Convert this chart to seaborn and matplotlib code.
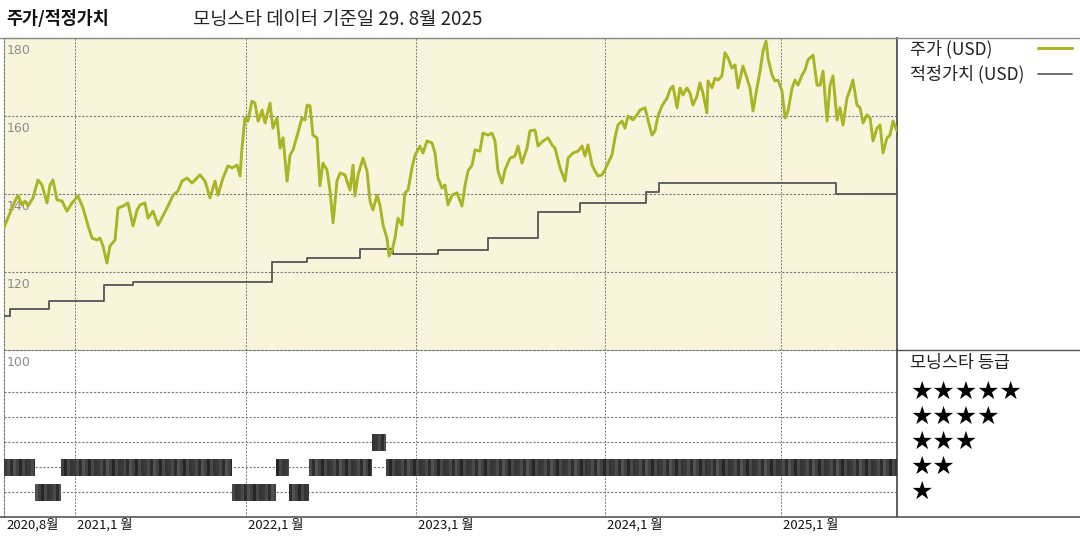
import numpy as np
import pandas as pd
import matplotlib
matplotlib.use("Agg")
import matplotlib.pyplot as plt
import seaborn as sns
from matplotlib.lines import Line2D
from matplotlib.transforms import blended_transform_factory

# ---------------- data ----------------
# months since Aug 2020
price_month = [
    0.00, 0.20, 0.54, 0.74, 0.94, 1.21, 1.41, 1.61, 1.95, 2.28, 2.55, 2.89, 3.09, 3.29, 3.56,
    3.90, 4.23, 4.57, 4.97, 5.31, 5.64, 5.91, 6.25, 6.45, 6.65, 6.92, 7.12, 7.46, 7.66, 8.00,
    8.33, 8.67, 8.94, 9.14, 9.47, 9.68, 10.01, 10.35, 10.68, 11.02, 11.36, 11.69, 11.96, 12.30,
    12.63, 12.97, 13.17, 13.51, 13.84, 14.18, 14.38, 14.71, 15.05,
    15.32, 15.66, 15.86, 15.99, 16.19, 16.39, 16.66, 16.86, 17.07, 17.34, 17.54, 17.87, 18.07,
    18.34, 18.55, 18.75, 19.02, 19.22, 19.42, 19.69, 20.02, 20.22, 20.36, 20.56, 20.76, 21.03,
    21.23, 21.43, 21.70, 21.90, 22.11, 22.37, 22.58, 22.91, 23.25, 23.45, 23.58, 23.79, 24.12,
    24.39, 24.59, 24.79, 25.06, 25.26, 25.47, 25.73, 25.87, 26.07, 26.27, 26.47, 26.74, 26.94,
    27.15, 27.41, 27.62, 27.95, 28.15, 28.42, 28.76, 28.96, 29.16, 29.43, 29.63, 29.83,
    30.10, 30.44, 30.77, 30.98, 31.18, 31.45, 31.65, 31.98, 32.18, 32.52, 32.79, 32.99, 33.19,
    33.46, 33.66, 34.00, 34.33, 34.54, 34.80, 35.14, 35.34, 35.68, 35.88, 36.22, 36.55, 36.82,
    37.02, 37.36, 37.69, 37.90, 38.23, 38.57, 38.84, 39.04, 39.24, 39.51, 39.71, 39.91, 40.18,
    40.38, 40.58, 40.85, 41.05, 41.25, 41.52, 41.72, 41.93, 42.26, 42.53, 42.73, 43.07, 43.27,
    43.54, 43.74, 43.94, 44.21, 44.55, 44.75, 44.95, 45.22, 45.42, 45.62, 45.89, 46.09, 46.29,
    46.56, 46.76, 46.96, 47.23, 47.30, 47.57, 47.77, 47.97, 48.24, 48.44, 48.65, 48.91, 49.12,
    49.32, 49.65, 49.92, 50.12, 50.33, 50.59, 50.80, 51.00, 51.20, 51.33, 51.60, 51.80, 52.01,
    52.27, 52.48, 52.68, 52.95, 53.15, 53.35, 53.62, 53.82, 54.02, 54.36, 54.63, 54.83, 55.03,
    55.30, 55.50, 55.70, 55.97, 56.17, 56.37, 56.64, 56.84, 57.04, 57.31, 57.52, 57.72, 57.99,
    58.19, 58.39, 58.66, 58.86, 59.06, 59.33, 59.53, 59.73, 60.00,
]
price_usd = [
    131.3, 133.3, 136.4, 138.2, 139.7, 137.2, 138.2, 136.9, 139.0, 143.6, 142.3, 137.7, 142.3, 143.6, 138.5,
    138.2, 135.6, 137.7, 139.5, 136.4, 132.0, 128.7, 128.2, 128.7, 126.7, 122.3, 126.7, 128.2, 136.4, 136.9,
    137.7, 131.8, 135.9, 137.2, 137.7, 133.8, 135.6, 132.0, 134.4, 136.9, 139.7, 140.8, 143.3, 144.1,
    142.8, 144.1, 144.9, 143.3, 139.0, 143.3, 139.7, 144.1, 147.2,
    146.7, 147.4, 144.6, 151.8, 159.5, 158.7, 163.8, 163.3, 158.7, 161.5, 158.2, 163.3, 156.9,
    159.5, 151.8, 154.4, 143.3, 150.0, 151.3, 154.9, 159.5, 159.0, 162.8, 162.6, 155.1, 154.4,
    142.1, 147.9, 146.2, 141.0, 132.6, 143.3, 145.4, 144.9, 141.0, 147.4, 139.5, 144.9, 149.2,
    145.9, 138.2, 135.9, 139.7, 137.2, 132.0, 128.7, 124.1, 125.4, 128.7, 133.8, 132.0, 140.3,
    141.0, 146.7, 150.0, 152.3, 150.5, 153.6, 153.1, 150.5, 144.1, 141.5, 142.3, 137.2,
    139.7, 140.3, 136.9, 142.3, 145.9, 147.4, 151.3, 151.0, 155.6, 155.1, 155.6, 153.6, 145.9,
    142.8, 146.2, 149.2, 149.7, 152.3, 147.9, 151.8, 156.2, 156.4, 152.3, 153.6, 154.4, 152.6,
    151.8, 146.7, 143.3, 149.2, 150.5, 151.0, 152.3, 149.7, 152.6, 147.4, 145.9, 144.6, 144.9,
    146.2, 147.9, 150.0, 154.4, 157.7, 158.7, 156.9, 160.0, 159.0, 160.3, 161.5, 162.1, 159.0,
    155.1, 156.2, 160.0, 162.6, 164.6, 166.8, 167.7, 162.1, 167.2, 165.4, 167.2, 165.9, 162.8,
    165.1, 168.5, 165.9, 160.8, 169.0, 167.2, 169.7, 169.2, 170.3, 176.2, 174.9, 172.3, 173.1,
    167.2, 172.8, 169.7, 167.2, 161.3, 167.2, 171.5, 176.7, 179.2, 174.9, 170.5, 169.0, 169.2,
    166.4, 159.5, 161.3, 167.2, 169.2, 167.9, 170.5, 171.8, 174.4, 175.6, 167.9, 167.9, 171.5,
    158.7, 167.9, 170.3, 159.0, 162.1, 157.7, 164.6, 166.7, 169.2, 162.8, 162.1, 158.2, 160.3,
    159.5, 153.6, 156.9, 157.7, 150.5, 154.4, 155.1, 158.7, 156.2,
]

fair_month = [0.00, 0.40, 3.02, 6.72, 8.67, 18.01, 20.36, 23.92, 26.14, 29.16, 32.52,
              35.88, 38.70, 43.14, 44.01, 55.90, 60.00]
fair_usd = [108.7, 110.5, 112.6, 116.7, 117.4, 122.6, 123.6, 125.9, 124.6, 125.6, 128.7,
            135.4, 137.7, 140.5, 142.8, 139.9, 146.7]

rating_start = [0.00, 2.08, 3.83, 15.32, 18.28, 19.15, 20.49, 24.73, 25.67]
rating_end = [2.08, 3.83, 15.32, 18.28, 19.15, 20.49, 24.73, 25.67, 60.00]
rating_stars = [2, 1, 2, 1, 2, 1, 2, 3, 2]

tick_month = [0.0, 4.77, 16.26, 27.68, 40.38, 52.21]
tick_label = ["2020,8월", "2021,1 월", "2022,1 월", "2023,1 월", "2024,1 월", "2025,1 월"]
ytick_values = [180, 160, 140, 120, 100]

title_left = "주가/적정가치"
title_mid = "모닝스타 데이터 기준일 29. 8월 2025"
legend_price = "주가 (USD)"
legend_fair = "적정가치 (USD)"
legend_rating = "모닝스타 등급"

# ---------------- style ----------------
sns.set_theme(style="white")
plt.rcParams["font.family"] = ["Noto Sans CJK KR", "DejaVu Sans"]

GREEN = "#a9b427"
FAIR = "#555555"
CREAM = "#f9f5dc"
GRID = "#7a7a7a"
DASH = (0, (2, 1.5))
W, H = 1080, 540

fig = plt.figure(figsize=(W / 100, H / 100), dpi=100)
fig.patch.set_facecolor("white")

left_px, right_px = 4, 897
top_px, mid_px, bot_px = 38, 350, 517

ax_top = fig.add_axes([left_px / W, 1 - mid_px / H, (right_px - left_px) / W, (mid_px - top_px) / H])
ax_bot = fig.add_axes([left_px / W, 1 - bot_px / H, (right_px - left_px) / W, (bot_px - mid_px) / H])
ax_leg = fig.add_axes([right_px / W, 1 - bot_px / H, (W - right_px) / W, (bot_px - top_px) / H])
ax_leg.axis("off")

# ---------------- top panel ----------------
ax_top.set_facecolor(CREAM)
df_price = pd.DataFrame({"month": price_month, "price": price_usd})
df_fair = pd.DataFrame({"month": fair_month, "fair": fair_usd})
sns.lineplot(data=df_fair, x="month", y="fair", ax=ax_top, color=FAIR, lw=1.3,
             drawstyle="steps-post", estimator=None, sort=False, zorder=4)
sns.lineplot(data=df_price, x="month", y="price", ax=ax_top, color=GREEN, lw=2.1,
             estimator=None, sort=False, zorder=5)
ax_top.set_xlim(0, 60)
ax_top.set_ylim(100, 180)
for v in ytick_values:
    if 100 < v < 180:
        ax_top.axhline(v, color=GRID, lw=0.8, ls=DASH, zorder=1)
for t in tick_month[1:]:
    ax_top.axvline(t, color=GRID, lw=0.7, ls=DASH, zorder=1)
for v in ytick_values:
    ax_top.annotate(str(v), xy=(0, v), xytext=(2, -4), textcoords="offset points",
                    ha="left", va="top", fontsize=9, color="#8c8c8c",
                    annotation_clip=False, zorder=3, family="DejaVu Sans")
ax_top.set_xticks([])
ax_top.set_yticks([])
ax_top.set_xlabel("")
ax_top.set_ylabel("")
for s in ["left", "bottom", "top"]:
    ax_top.spines[s].set_color(GRID)
    ax_top.spines[s].set_linewidth(0.8)
    ax_top.spines[s].set_linestyle(DASH)
ax_top.spines["right"].set_color("#444444")
ax_top.spines["right"].set_linewidth(1.2)

# ---------------- bottom panel (ratings) ----------------
ax_bot.patch.set_visible(False)
shades = ["#3a3a3a", "#4a4a4a", "#2e2e2e", "#525252", "#404040", "#262626", "#484848", "#353535"]
step = 0.2
k = 0
for s0, s1, r in zip(rating_start, rating_end, rating_stars):
    xs = np.arange(s0, s1, step)
    widths = np.minimum(step, s1 - xs)
    cols = [shades[(k + i) % len(shades)] for i in range(len(xs))]
    k += len(xs)
    ax_bot.bar(xs, 0.68, width=widths, bottom=r - 0.34, align="edge",
               color=cols, edgecolor="none", zorder=3)
ax_bot.set_xlim(0, 60)
ax_bot.set_ylim(0, 6.68)
for r in range(1, 6):
    ax_bot.axhline(r, color=GRID, lw=0.8, ls=DASH, zorder=1)
for t in tick_month[1:]:
    ax_bot.axvline(t, color=GRID, lw=0.7, ls=DASH, zorder=1)
ax_bot.set_xticks([])
ax_bot.set_yticks([])
for t, lab in zip(tick_month, tick_label):
    ax_bot.annotate(lab, xy=(t, 0), xytext=(1.5, -1), textcoords="offset points",
                    ha="left", va="top", fontsize=9.5, color="#111111", annotation_clip=False)
ax_bot.spines["top"].set_visible(False)
ax_bot.spines["left"].set_color(GRID)
ax_bot.spines["left"].set_linewidth(0.8)
ax_bot.spines["left"].set_linestyle(DASH)
ax_bot.spines["right"].set_color("#444444")
ax_bot.spines["right"].set_linewidth(1.2)
ax_bot.spines["bottom"].set_visible(False)

# ---------------- frame lines ----------------
fig.add_artist(Line2D([0, 1], [1 - top_px / H] * 2, transform=fig.transFigure,
                      color="#8a8a8a", lw=1.0))
fig.add_artist(Line2D([0, 1], [1 - bot_px / H] * 2, transform=fig.transFigure,
                      color="#555555", lw=1.2))
fig.add_artist(Line2D([right_px / W, 1], [1 - mid_px / H] * 2, transform=fig.transFigure,
                      color="#555555", lw=1.0))

# ---------------- titles ----------------
fig.text(6 / W, 1 - 19 / H, title_left, ha="left", va="center", fontsize=12.5,
         fontweight="bold", color="#111111")
fig.text(193 / W, 1 - 19 / H, title_mid, ha="left", va="center", fontsize=13.5,
         color="#222222")

# ---------------- legend area ----------------
fig.text(910 / W, 1 - 49 / H, legend_price, ha="left", va="center", fontsize=12.5, color="#222222")
fig.text(910 / W, 1 - 74 / H, legend_fair, ha="left", va="center", fontsize=12.5, color="#222222")
fig.add_artist(Line2D([1038 / W, 1072 / W], [1 - 48 / H] * 2, transform=fig.transFigure,
                      color=GREEN, lw=2.2))
fig.add_artist(Line2D([1038 / W, 1072 / W], [1 - 74 / H] * 2, transform=fig.transFigure,
                      color=FAIR, lw=1.2))
fig.text(910 / W, 1 - 363 / H, legend_rating, ha="left", va="center", fontsize=12.5, color="#222222")
trans = blended_transform_factory(ax_leg.transAxes, ax_bot.transData)
for n in range(5, 0, -1):
    ax_leg.text(0.075, n, "★" * n, transform=trans, ha="left", va="center",
                fontsize=18, color="black", family="DejaVu Sans")

fig.savefig("out.png", dpi=100, facecolor="white")
